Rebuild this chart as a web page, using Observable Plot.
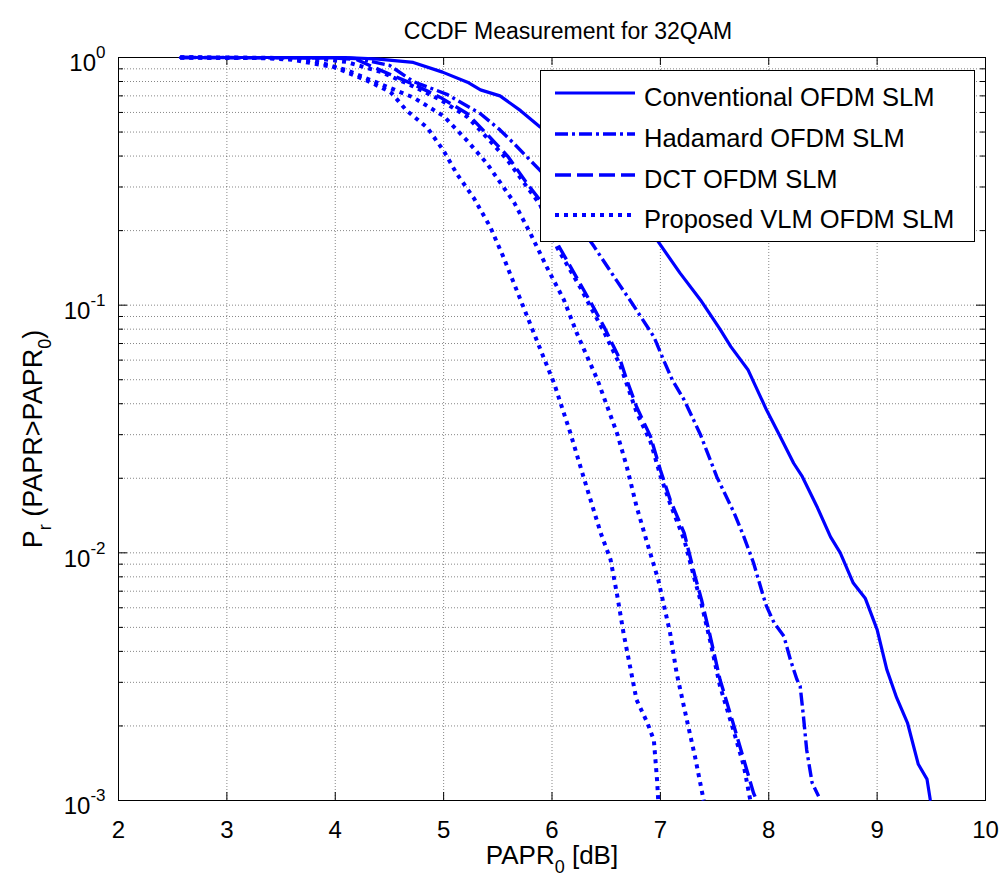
<!DOCTYPE html>
<html><head><meta charset="utf-8">
<script src="https://cdn.jsdelivr.net/npm/d3@7"></script>
<script src="https://cdn.jsdelivr.net/npm/@observablehq/plot@0.6"></script>
<style>body{margin:0;background:#fff;} #chart{position:relative;width:1003px;height:888px;}</style>
</head><body><div id="chart"></div>
<script>
const FONT = "'Liberation Sans', Arial, Helvetica, sans-serif";
const titleText = "CCDF Measurement for 32QAM";
const xLabelText = "PAPR_0 [dB]";
const yLabelText = "P_r (PAPR>PAPR_0)";
const xTicks = [2, 3, 4, 5, 6, 7, 8, 9, 10];
const yDecades = [1e-3, 1e-2, 1e-1, 1];
const yTickLabels = ["10^-3", "10^-2", "10^-1", "10^0"];
const legendNames = ["Conventional OFDM SLM", "Hadamard OFDM SLM", "DCT OFDM SLM", "Proposed VLM OFDM SLM"];

// Conventional OFDM SLM (solid)
const convX = [2.57, 4.1, 4.4, 4.72, 4.99, 5.22, 5.34, 5.52, 5.71, 5.89, 6.2, 6.5, 6.8, 6.97, 7.18, 7.37, 7.55, 7.65, 7.81, 7.98, 8.09, 8.23, 8.31, 8.45, 8.57, 8.66, 8.78, 8.89, 9.0, 9.09, 9.18, 9.28, 9.38, 9.46, 9.49];
const convY = [1, 1, 0.985, 0.955, 0.873, 0.795, 0.74, 0.70, 0.61, 0.524, 0.42, 0.31, 0.225, 0.183, 0.135, 0.105, 0.080, 0.068, 0.0547, 0.0377, 0.0304, 0.023, 0.0203, 0.0152, 0.0116, 0.0100, 0.00755, 0.00656, 0.0049, 0.00337, 0.0026, 0.00206, 0.0014, 0.00122, 0.00101];
// Hadamard OFDM SLM (dash-dot)
const hadX = [2.57, 4.0, 4.2, 4.5, 4.72, 5.03, 5.34, 5.52, 5.65, 5.89, 6.1, 6.39, 6.6, 6.74, 6.94, 7.03, 7.11, 7.22, 7.37, 7.52, 7.68, 7.77, 7.86, 7.95, 7.98, 8.05, 8.14, 8.20, 8.26, 8.29, 8.32, 8.35, 8.40, 8.46];
const hadY = [1, 0.998, 0.99, 0.93, 0.80, 0.71, 0.593, 0.51, 0.449, 0.35, 0.26, 0.172, 0.125, 0.1016, 0.0745, 0.060, 0.0499, 0.0414, 0.0300, 0.0203, 0.0145, 0.01163, 0.0091, 0.00667, 0.00608, 0.00521, 0.0046, 0.0037, 0.00308, 0.00289, 0.00219, 0.0016, 0.00118, 0.00104];
// DCT OFDM SLM (dashed)
const dctX = [2.57, 4.0, 4.2, 4.42, 4.72, 4.97, 5.22, 5.40, 5.59, 5.77, 5.89, 6.05, 6.26, 6.38, 6.48, 6.63, 6.69, 6.78, 6.91, 7.0, 7.09, 7.22, 7.32, 7.38, 7.46, 7.55, 7.67, 7.77, 7.86, 7.89];
const dctY = [1, 0.995, 0.98, 0.887, 0.78, 0.69, 0.593, 0.49, 0.40, 0.31, 0.265, 0.177, 0.122, 0.0985, 0.0818, 0.060, 0.0499, 0.0389, 0.0294, 0.0216, 0.0164, 0.012, 0.00803, 0.00646, 0.0046, 0.00308, 0.00206, 0.00146, 0.00107, 0.001];
// Proposed VLM OFDM SLM (dotted, three curves)
const vlmAX = [2.57, 3.8, 4.1, 4.42, 4.72, 4.97, 5.22, 5.40, 5.59, 5.77, 5.89, 6.05, 6.26, 6.38, 6.48, 6.63, 6.69, 6.78, 6.91, 7.0, 7.09, 7.22, 7.32, 7.38, 7.46, 7.55, 7.67, 7.77, 7.83];
const vlmAY = [1, 0.995, 0.96, 0.875, 0.765, 0.675, 0.575, 0.475, 0.385, 0.30, 0.255, 0.17, 0.118, 0.094, 0.078, 0.057, 0.048, 0.037, 0.028, 0.0205, 0.0158, 0.0113, 0.0077, 0.0062, 0.0044, 0.0029, 0.00195, 0.00138, 0.001];
const vlmBX = [2.57, 3.5, 3.8, 4.11, 4.42, 4.72, 5.0, 5.22, 5.40, 5.65, 5.80, 5.95, 6.11, 6.23, 6.42, 6.60, 6.69, 6.78, 6.88, 6.98, 7.09, 7.15, 7.25, 7.32, 7.40];
const vlmBY = [1, 0.995, 0.97, 0.887, 0.78, 0.69, 0.58, 0.46, 0.373, 0.26, 0.195, 0.143, 0.105, 0.0769, 0.0499, 0.0304, 0.0223, 0.0154, 0.0109, 0.0078, 0.00474, 0.00327, 0.00206, 0.0015, 0.001];
const vlmCX = [2.57, 3.3, 3.6, 3.99, 4.29, 4.51, 4.66, 4.85, 5.0, 5.12, 5.28, 5.43, 5.55, 5.71, 5.92, 6.02, 6.17, 6.29, 6.45, 6.54, 6.60, 6.66, 6.72, 6.78, 6.88, 6.94, 6.97, 6.98];
const vlmCY = [1, 0.995, 0.98, 0.914, 0.808, 0.725, 0.61, 0.52, 0.42, 0.34, 0.27, 0.207, 0.157, 0.105, 0.0619, 0.0483, 0.0304, 0.0203, 0.012, 0.0094, 0.0068, 0.00474, 0.00348, 0.00255, 0.00206, 0.00175, 0.0012, 0.001];

const zip = (xs, ys) => xs.map((x, i) => ({x, y: ys[i]}));
const BLUE = "#0000ff";
const W = 1003, H = 888, mL = 118, mR = 18, mT = 57, mB = 88;
const innerW = W - mL - mR, innerH = H - mT - mB;
const yAll = d3.scaleLog().domain([1e-3, 1]).ticks();
const isDecade = v => Math.abs(Math.log10(v) - Math.round(Math.log10(v))) < 1e-9;
const yMinor = yAll.filter(v => !isDecade(v));

const gridStyle = {stroke: "#000", strokeOpacity: 0.6, strokeWidth: 0.8, strokeDasharray: "1,2"};
const dash = {solid: null, dashdot: "13,4,3,4", dashed: "16,6", dotted: "4,5"};
const LW = {solid: 3.2, dashdot: 3.4, dashed: 3.4, dotted: 4};

const svg = Plot.plot({
  width: W, height: H,
  marginLeft: mL, marginRight: mR, marginTop: mT, marginBottom: mB,
  style: {fontFamily: FONT, fontSize: "24px", color: "#000", background: "#fff"},
  x: {domain: [2, 10]},
  y: {type: "log", domain: [1e-3, 1]},
  marks: [
    Plot.gridX(xTicks, gridStyle),
    Plot.gridY(yAll, gridStyle),
    Plot.frame({stroke: "#000", strokeWidth: 1}),
    Plot.tickX(xTicks, {x: d => d, insetTop: innerH - 8, stroke: "#000"}),
    Plot.tickX(xTicks, {x: d => d, insetBottom: innerH - 8, stroke: "#000"}),
    Plot.tickY(yDecades, {y: d => d, insetRight: innerW - 9, stroke: "#000"}),
    Plot.tickY(yDecades, {y: d => d, insetLeft: innerW - 9, stroke: "#000"}),
    Plot.tickY(yMinor, {y: d => d, insetRight: innerW - 5, stroke: "#000"}),
    Plot.tickY(yMinor, {y: d => d, insetLeft: innerW - 5, stroke: "#000"}),
    Plot.axisX({ticks: xTicks, tickSize: 0, tickPadding: 20, fontSize: 24, label: null, tickFormat: d => String(d)}),
    Plot.axisY({ticks: yDecades, tickSize: 0, tickPadding: 13, fontSize: 24, label: null, tickFormat: (d) => yTickLabels[yDecades.indexOf(d)]}),
    Plot.line(zip(convX, convY), {x: "x", y: "y", stroke: BLUE, strokeWidth: LW.solid}),
    Plot.line(zip(hadX, hadY), {x: "x", y: "y", stroke: BLUE, strokeWidth: LW.dashdot, strokeDasharray: dash.dashdot, strokeLinecap: "butt"}),
    Plot.line(zip(dctX, dctY), {x: "x", y: "y", stroke: BLUE, strokeWidth: LW.dashed, strokeDasharray: dash.dashed, strokeLinecap: "butt"}),
    Plot.line(zip(vlmAX, vlmAY), {x: "x", y: "y", stroke: BLUE, strokeWidth: LW.dotted, strokeDasharray: dash.dotted, strokeLinecap: "butt"}),
    Plot.line(zip(vlmBX, vlmBY), {x: "x", y: "y", stroke: BLUE, strokeWidth: LW.dotted, strokeDasharray: dash.dotted, strokeLinecap: "butt"}),
    Plot.line(zip(vlmCX, vlmCY), {x: "x", y: "y", stroke: BLUE, strokeWidth: LW.dotted, strokeDasharray: dash.dotted, strokeLinecap: "butt"}),
    Plot.text([titleText], {text: d => d, frameAnchor: "top", dy: -35, dx: 16, fontSize: 23}),
    Plot.text([xLabelText], {text: d => d, frameAnchor: "bottom", dy: 63, fontSize: 26}),
    Plot.text([yLabelText], {text: d => d, frameAnchor: "left", textAnchor: "middle", dx: -85, dy: 10, rotate: -90, fontSize: 27})
  ]
});

const root = d3.select(svg);
// superscript exponents on y tick labels
root.selectAll('g[aria-label="y-axis tick label"] text').each(function() {
  const [b, e] = this.textContent.split("^");
  const s = d3.select(this); s.text(null);
  s.append("tspan").attr("dy", 6).text(b);
  s.append("tspan").attr("dy", -13).attr("font-size", "17px").text(e);
});
// subscripts in axis labels
function subscriptify(sel, subSize) {
  sel.each(function() {
    const parts = this.textContent.split(/_(\w)/);
    const s = d3.select(this); s.text(null);
    parts.forEach((p, i) => {
      if (p === "") return;
      if (i % 2 === 1) s.append("tspan").attr("dy", 9).attr("font-size", subSize).text(p);
      else s.append("tspan").attr("dy", i === 0 ? 0 : -9).text(p);
    });
  });
}
subscriptify(root.selectAll("text").filter(function() { return this.textContent === xLabelText || this.textContent === yLabelText; }), "18px");

// legend
const lg = root.append("g").attr("font-family", FONT).attr("text-anchor", "start");
lg.append("rect").attr("x", 540.5).attr("y", 70.5).attr("width", 434).attr("height", 171)
  .attr("fill", "#fff").attr("stroke", "#000").attr("stroke-width", 1);
const legendStyles = [dash.solid, dash.dashdot, dash.dashed, dash.dotted];
const legendWidths = [LW.solid, LW.dashdot, LW.dashed, LW.dotted];
const legendRows = [93, 134, 175, 215];
legendNames.forEach((name, i) => {
  const y = legendRows[i];
  lg.append("line").attr("x1", 555).attr("x2", 635).attr("y1", y).attr("y2", y)
    .attr("stroke", BLUE).attr("stroke-width", legendWidths[i])
    .attr("stroke-dasharray", legendStyles[i]).attr("stroke-linecap", "butt");
  lg.append("text").attr("x", 644).attr("y", y + 4).attr("dy", "0.35em").attr("text-anchor", "start")
    .attr("font-size", 25.5).attr("fill", "#000").text(name);
});

document.getElementById("chart").appendChild(svg);
</script>
</body></html>
